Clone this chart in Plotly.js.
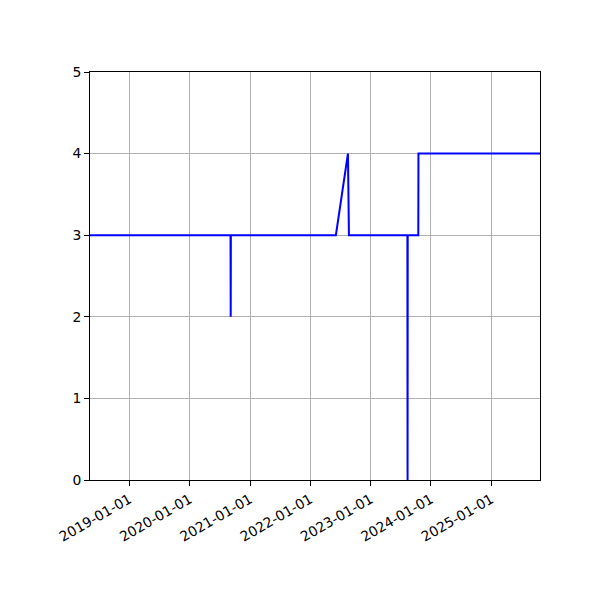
<!DOCTYPE html>
<html>
<head>
<meta charset="utf-8">
<script src="https://cdn.plot.ly/plotly-3.0.1.min.js"></script>
<style>html,body{margin:0;padding:0;background:#fff;}#chart{width:600px;height:600px;}</style>
</head>
<body>
<div id="chart"></div>
<script>
const dates = [
  "2018-05-08", "2020-09-05", "2020-09-06", "2020-09-07",
  "2022-06-05", "2022-08-17", "2022-08-23",
  "2023-08-12", "2023-08-13", "2023-08-14",
  "2023-10-17", "2023-10-18", "2025-10-23"
];
const values = [3, 3, 2, 3, 3, 4, 3, 3, 0, 3, 3, 4, 4];
const xRange = ["2018-05-08", "2025-10-23"];
const yTicks = [0, 1, 2, 3, 4, 5];

const font = {family: "DejaVu Sans, sans-serif", size: 13.9, color: "#000"};

Plotly.newPlot("chart", [{
  x: dates, y: values, type: "scatter", mode: "lines",
  line: {color: "#0000ff", width: 2}, hoverinfo: "skip"
}], {
  width: 600, height: 600,
  margin: {l: 90, r: 60, t: 72, b: 120},
  paper_bgcolor: "#fff", plot_bgcolor: "#fff",
  showlegend: false,
  font: font,
  xaxis: {
    type: "date", range: xRange,
    tick0: "2019-01-01", dtick: "M12", tickformat: "%Y-%m-%d",
    tickangle: -30,
    showgrid: true, gridcolor: "#b0b0b0", gridwidth: 1,
    showline: true, linecolor: "#000", linewidth: 1, mirror: true,
    ticks: "outside", ticklen: 5, tickcolor: "#000", tickwidth: 1,
    zeroline: false, tickfont: font
  },
  yaxis: {
    range: [0, 5], tickvals: yTicks,
    showgrid: true, gridcolor: "#b0b0b0", gridwidth: 1,
    showline: true, linecolor: "#000", linewidth: 1, mirror: true,
    ticks: "outside", ticklen: 5, tickcolor: "#000", tickwidth: 1,
    zeroline: false, tickfont: font
  }
}, {staticPlot: true, displayModeBar: false});
</script>
</body>
</html>
